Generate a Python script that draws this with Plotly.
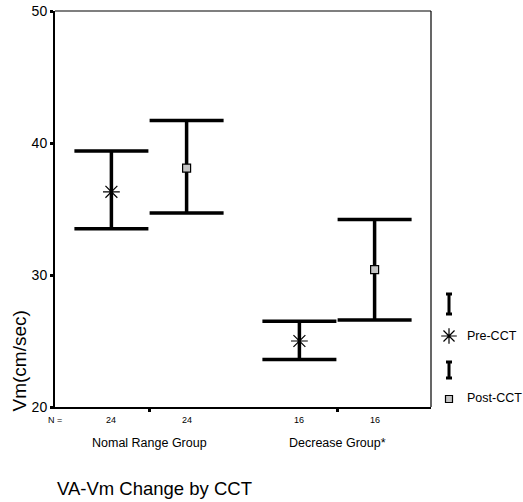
import plotly.graph_objects as go

groups = ["Nomal Range Group", "Decrease Group*"]
n_counts_pre = [24, 16]
n_counts_post = [24, 16]
pre_mean = [36.3, 25.0]
pre_upper = [39.4, 26.5]
pre_lower = [33.5, 23.6]
post_mean = [38.1, 30.4]
post_upper = [41.7, 34.2]
post_lower = [34.7, 26.6]
y_ticks = [20, 30, 40, 50]

centers = [i + 0.5 for i in range(len(groups))]
off = 0.2
x_pre = [c - off for c in centers]
x_post = [c + off for c in centers]

W, H = 523, 502
ml, mr, mt, mb = 55, 0, 11, 95
pw = W - ml - mr
ph = H - mt - mb
main_right = 376 / pw
y0 = mt + ph  # pixel row of the x axis

fig = go.Figure()
fig.add_trace(go.Scatter(
    x=x_pre, y=pre_mean, mode="markers", showlegend=False,
    marker=dict(symbol="asterisk-open", size=14, color="black", line=dict(width=1.2, color="black")),
    error_y=dict(type="data", symmetric=False,
                 array=[u - m for u, m in zip(pre_upper, pre_mean)],
                 arrayminus=[m - l for m, l in zip(pre_mean, pre_lower)],
                 width=37, thickness=3.5, color="black"),
))
fig.add_trace(go.Scatter(
    x=x_post, y=post_mean, mode="markers", showlegend=False,
    marker=dict(symbol="square", size=8, color="#c4c4c4", line=dict(width=1.2, color="black")),
    error_y=dict(type="data", symmetric=False,
                 array=[u - m for u, m in zip(post_upper, post_mean)],
                 arrayminus=[m - l for m, l in zip(post_mean, post_lower)],
                 width=37, thickness=3.5, color="black"),
))

# legend keys on a side axis (1 unit = 1 px)
fig.add_trace(go.Scatter(
    x=[18, 18], y=[103, 37], mode="markers", showlegend=False, xaxis="x2", yaxis="y2",
    marker=dict(size=1, color="rgba(0,0,0,0)"),
    error_y=dict(type="data", array=[10, 8], width=3, thickness=3, color="black"),
))
fig.add_trace(go.Scatter(
    x=[18], y=[71], mode="markers", showlegend=False, xaxis="x2", yaxis="y2",
    marker=dict(symbol="asterisk-open", size=13, color="black", line=dict(width=1.2, color="black")),
))
fig.add_trace(go.Scatter(
    x=[18], y=[8], mode="markers", showlegend=False, xaxis="x2", yaxis="y2",
    marker=dict(symbol="square", size=7, color="#c4c4c4", line=dict(width=1.2, color="black")),
))

ann = []
for lbl, yy in [("Pre-CCT", 71), ("Post-CCT", 9)]:
    ann.append(dict(x=34, y=yy, xref="x2", yref="y2", text=lbl, showarrow=False,
                    xanchor="left", yanchor="middle", font=dict(size=12.5, color="black")))
ann.append(dict(x=0, y=-0.033, xref="paper", yref="paper", text="N =", showarrow=False,
                xanchor="center", yanchor="middle", font=dict(size=9, color="black")))
for xp, xq, a, b in zip(x_pre, x_post, n_counts_pre, n_counts_post):
    ann.append(dict(x=xp, y=-0.033, xref="x", yref="paper", text=str(a), showarrow=False,
                    yanchor="middle", font=dict(size=9, color="black")))
    ann.append(dict(x=xq, y=-0.033, xref="x", yref="paper", text=str(b), showarrow=False,
                    yanchor="middle", font=dict(size=9, color="black")))
for c, g in zip(centers, groups):
    ann.append(dict(x=c, y=-0.091, xref="x", yref="paper", text=g, showarrow=False,
                    yanchor="middle", font=dict(size=12.5, color="black")))
ann.append(dict(x=0, y=-(488 - y0) / ph, xref="paper", yref="paper", text="VA-Vm Change by CCT",
                showarrow=False, xanchor="left", yanchor="middle", font=dict(size=18.5, color="black")))
ann.append(dict(x=-(ml - 18.5) / pw, y=(y0 - 361) / ph, xref="paper", yref="paper", text="Vm(cm/sec)",
                textangle=-90, showarrow=False, xanchor="center", yanchor="middle",
                font=dict(size=19, color="black")))

# thin top and right frame lines
shapes = [
    dict(type="line", xref="x domain", yref="y domain", x0=0, x1=1, y0=1, y1=1,
         line=dict(color="black", width=1.2)),
    dict(type="line", xref="x domain", yref="y domain", x0=1, x1=1, y0=0, y1=1,
         line=dict(color="black", width=1.2)),
]

fig.update_layout(
    width=W, height=H, margin=dict(l=ml, r=mr, t=mt, b=mb, autoexpand=False),
    paper_bgcolor="white", plot_bgcolor="white",
    font=dict(family="Liberation Sans, Arial, sans-serif", color="black"),
    xaxis=dict(domain=[0, main_right], range=[0, len(groups)], tickvals=centers, ticktext=["", ""],
               ticks="outside", ticklen=3, tickwidth=3, tickcolor="black", automargin=False,
               showgrid=False, zeroline=False, showline=True, linewidth=2, linecolor="black"),
    yaxis=dict(range=[20, 50], tickvals=y_ticks, ticks="outside", ticklen=3, tickwidth=3, tickcolor="black",
               showgrid=False, zeroline=False, showline=True, linewidth=2, linecolor="black",
               automargin=False, tickfont=dict(size=14), ticklabeloverflow="allow"),
    xaxis2=dict(domain=[main_right, 1.0], range=[0, pw - 376], visible=False, anchor="y2"),
    yaxis2=dict(domain=[0, 1], range=[0, ph], visible=False, anchor="x2"),
    annotations=ann,
    shapes=shapes,
)
fig.write_html("out.html", config={"displayModeBar": False},
               post_script="document.body.style.margin='0';document.body.style.overflow='hidden';")
